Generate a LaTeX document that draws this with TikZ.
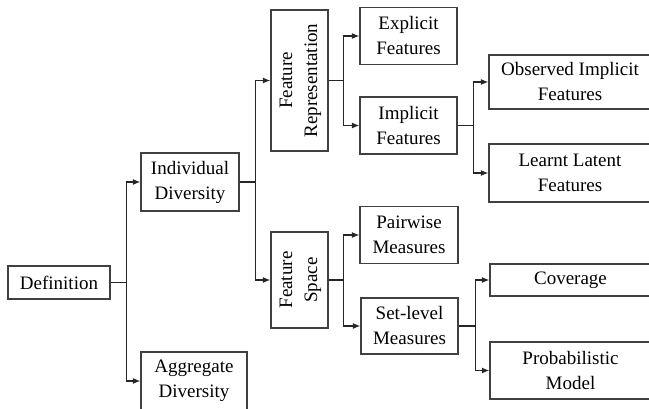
\documentclass[tikz,border=0pt]{standalone}
\usepackage{fontspec}
\setmainfont{Liberation Serif}
\usetikzlibrary{arrows.meta}
\tikzset{
  box/.style={draw=black!75, line width=1.2pt, inner sep=0pt, align=center, font=\fontsize{19}{25}\selectfont},
  conn/.style={draw=black!85, line width=1.2pt, -{Latex[length=7.5pt,width=6pt]}},
}
\begin{document}
\begin{tikzpicture}[x=1pt,y=-1pt]
\useasboundingbox (0,0) rectangle (649,409);
\clip (0,0) rectangle (649,409);
% level 0
\node[box, minimum width=102, minimum height=33] (def) at (59,282.5) {Definition};
% level 1
\node[box, minimum width=98, minimum height=58] (ind) at (190,182) {Individual\\Diversity};
\node[box, minimum width=106, minimum height=58] (agg) at (194,381) {Aggregate\\Diversity};
% level 2
\node[box, minimum width=57, minimum height=141] (fr) at (299.5,80.5) {\rotatebox{90}{\begin{tabular}{@{}c@{}}Feature\\Representation\end{tabular}}};
\node[box, minimum width=57, minimum height=96] (fs) at (299.5,280) {\rotatebox{90}{\begin{tabular}{@{}c@{}}Feature\\Space\end{tabular}}};
% level 3
\node[box, minimum width=97, minimum height=57] (exp) at (408.5,36) {Explicit\\Features};
\node[box, minimum width=97, minimum height=57] (imp) at (408.5,125.5) {Implicit\\Features};
\node[box, minimum width=98, minimum height=57] (pw) at (409,235) {Pairwise\\Measures};
\node[box, minimum width=97, minimum height=56] (set) at (409.5,326) {Set-level\\Measures};
% level 4
\node[box, minimum width=162, minimum height=54] (obs) at (570,82) {Observed Implicit\\Features};
\node[box, minimum width=162, minimum height=58] (lat) at (570,173) {Learnt Latent\\Features};
\node[box, minimum width=161, minimum height=32] (cov) at (570.5,280) {Coverage};
\node[box, minimum width=161, minimum height=57] (prob) at (570.5,370.5) {Probabilistic\\Model};
% connectors
\draw[conn] (def.east) -- ++(16,0) |- (ind.west);
\draw[conn] (def.east) -- ++(16,0) |- (agg.west);
\draw[conn] (ind.east) -- ++(16,0) |- (fr.west);
\draw[conn] (ind.east) -- ++(16,0) |- (fs.west);
\draw[conn] (fr.east) -- ++(15,0) |- (exp.west);
\draw[conn] (fr.east) -- ++(15,0) |- (imp.west);
\draw[conn] (fs.east) -- ++(15,0) |- (pw.west);
\draw[conn] (fs.east) -- ++(15,0) |- (set.west);
\draw[conn] (imp.east) -- ++(16,0) |- (obs.west);
\draw[conn] (imp.east) -- ++(16,0) |- (lat.west);
\draw[conn] (set.east) -- ++(17,0) |- (cov.west);
\draw[conn] (set.east) -- ++(17,0) |- (prob.west);
\end{tikzpicture}
\end{document}
